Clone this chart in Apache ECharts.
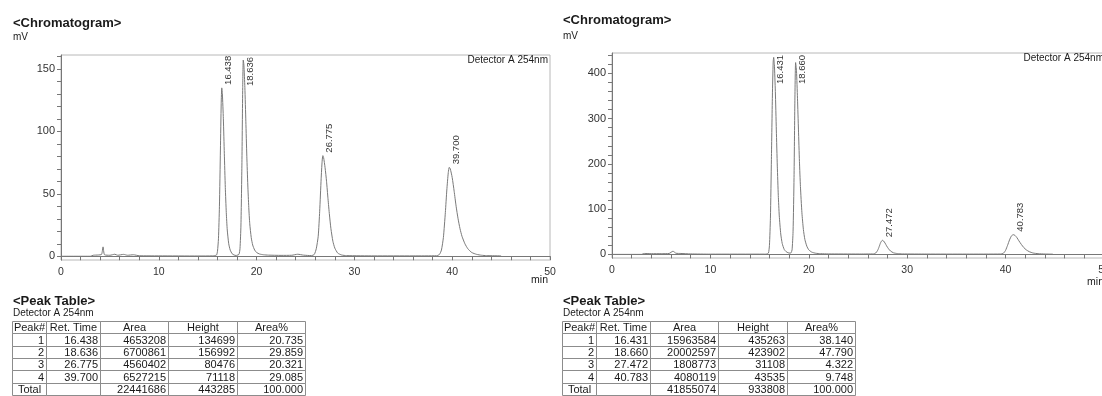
<!DOCTYPE html>
<html>
<head>
<meta charset="utf-8">
<title>Chromatogram</title>
<script src="https://cdn.jsdelivr.net/npm/echarts@6/dist/echarts.min.js"></script>
<style>
html, body { margin: 0; padding: 0; background: #fff; }
#main { width: 1102px; height: 396px; }
</style>
</head>
<body>
<div id="main"></div>
<script>
// ---- run 1 (left) : signal, min / mV ----
var leftTime = [0, 3.0, 3.3, 3.8, 4.15, 4.3, 4.45, 5.0, 5.5, 5.8, 6.4, 6.8, 7.4, 8.0, 10, 14, 15.5,
    15.9, 16.0, 16.1, 16.2, 16.3, 16.38, 16.438, 16.5, 16.6, 16.7, 16.8, 16.9, 17.0, 17.15, 17.3, 17.5, 17.7, 17.9,
    18.0, 18.2, 18.3, 18.4, 18.5, 18.58, 18.636, 18.7, 18.8, 18.9, 19.0, 19.1, 19.2, 19.3, 19.45, 19.6, 19.8, 20.0, 20.3, 20.7, 21.2,
    22.5, 23.6, 24.2, 24.8, 25.6,
    25.9, 26.1, 26.3, 26.45, 26.6, 26.7, 26.775, 26.85, 27.0, 27.15, 27.3, 27.45, 27.6, 27.8, 28.0, 28.3, 28.7, 29.2,
    32, 36, 38.4,
    38.7, 38.9, 39.1, 39.3, 39.45, 39.6, 39.7, 39.8, 40.0, 40.2, 40.4, 40.6, 40.8, 41.0, 41.3, 41.6, 42.0, 42.5, 43.0, 43.5, 45];
var leftMv = [0, 0, 0.8, 1, 1.5, 7.5, 1.2, 0.8, 1.6, 0.8, 1.5, 0.8, 1.2, 0.4, 0.3, 0.2, 0.3,
    1, 4, 14, 40, 85, 122, 134.7, 130, 110, 82, 55, 35, 21, 10, 5, 2, 1, 0.6,
    0.8, 1.5, 6, 25, 75, 135, 157, 153, 135, 108, 80, 57, 39, 26, 15, 9, 5, 3, 1.8, 1.2, 0.9,
    0.7, 0.8, 1.6, 0.9, 0.5,
    1.5, 6, 16, 36, 62, 76, 80.5, 79, 71, 60, 46, 33, 22, 12, 6.5, 2.5, 1, 0.5,
    0.3, 0.3, 0.4,
    1.5, 5, 15, 35, 53, 67, 71.1, 70, 63, 52, 40, 30, 22, 16, 10, 6, 3, 1.5, 0.8, 0.5, 0.3];

// ---- run 2 (right) ----
var rightTime = [0, 3.0, 3.3, 4.0, 5.0, 5.8, 6.2, 6.5, 7.0, 8.0, 10, 15.5,
    15.7, 15.9, 16.0, 16.1, 16.2, 16.3, 16.38, 16.431, 16.5, 16.6, 16.7, 16.8, 16.9, 17.0, 17.15, 17.3, 17.5, 17.7, 17.9, 18.1,
    18.2, 18.3, 18.4, 18.5, 18.58, 18.66, 18.75, 18.85, 18.95, 19.05, 19.15, 19.3, 19.45, 19.6, 19.8, 20.0, 20.3, 20.7, 21.2,
    22, 25,
    26.6, 26.8, 27.0, 27.15, 27.3, 27.472, 27.6, 27.75, 27.9, 28.1, 28.3, 28.6, 29.0, 29.5,
    32, 36,
    39.5, 39.8, 40.0, 40.2, 40.4, 40.6, 40.783, 40.95, 41.15, 41.35, 41.6, 41.85, 42.1, 42.4, 42.8, 43.3, 44, 44.8];
var rightMv = [0, 0, 2, 1.5, 1.5, 2, 7, 2.5, 2, 1, 0.5, 0.5,
    0.8, 3, 20, 80, 210, 350, 425, 435.3, 420, 360, 275, 195, 130, 85, 45, 24, 11, 6, 3.5, 2.8,
    3.5, 10, 50, 170, 330, 423.9, 405, 345, 275, 205, 150, 92, 55, 33, 18, 10, 5, 2.5, 1.5,
    1, 0.8,
    1, 3, 9, 17, 26, 31.1, 29.5, 25, 19, 12.5, 7.5, 3.5, 1.8, 1,
    0.7, 0.6,
    0.8, 3, 9, 20, 32, 41, 43.5, 42, 37, 30, 22, 15, 10, 6, 3, 1.5, 0.8, 0.5];

// ---- peak tables ----
var tableHeader = ['Peak#', 'Ret. Time', 'Area', 'Height', 'Area%'];
var peakNo = [1, 2, 3, 4];

var leftRetTime = [16.438, 18.636, 26.775, 39.700];
var leftArea = [4653208, 6700861, 4560402, 6527215];
var leftHeight = [134699, 156992, 80476, 71118];
var leftAreaPct = [20.735, 29.859, 20.321, 29.085];
var leftTotal = [22441686, 443285, 100.000];

var rightRetTime = [16.431, 18.660, 27.472, 40.783];
var rightArea = [15963584, 20002597, 1808773, 4080119];
var rightHeight = [435263, 423902, 31108, 43535];
var rightAreaPct = [38.140, 47.790, 4.322, 9.748];
var rightTotal = [41855074, 933808, 100.000];

// ---- axis ticks ----
var xTickStep = 10;
var leftYTicks = [0, 10, 20, 30, 40, 50, 60, 70, 80, 90, 100, 110, 120, 130, 140, 150, 160];
var leftYLabels = [0, 50, 100, 150];
var rightYTicks = [0, 20, 40, 60, 80, 100, 120, 140, 160, 180, 200, 220, 240, 260, 280, 300, 320, 340, 360, 380, 400, 420, 440];
var rightYLabels = [0, 100, 200, 300, 400];

var FONT = '"Liberation Sans", Arial, sans-serif';
var AXIS_C = '#777';

function pairs(t, v) {
    return t.map(function (x, i) { return [x, v[i]]; });
}

// µV -> mV for the peak top
function peakTops(rt, h) {
    return rt.map(function (x, i) { return [x, h[i] / 1000]; });
}

// retention time written upright next to each peak top
function peakLabel(params, api) {
    var p = api.coord([api.value(0), api.value(1)]);
    var top = params.coordSys.y;
    var txtLen = 27;
    var y = p[1] - 3, align = 'left';
    if (y - txtLen < top + 2) { y = top + 2; align = 'right'; }
    return {
        type: 'text',
        x: p[0] + 7,
        y: y,
        rotation: Math.PI / 2,
        style: {
            text: api.value(0).toFixed(3),
            align: align,
            verticalAlign: 'middle',
            font: '9.5px ' + FONT,
            fill: '#333'
        }
    };
}

function xAxisOf(idx) {
    return {
        type: 'value', gridIndex: idx, min: 0, max: 50, interval: xTickStep,
        axisLine: { lineStyle: { color: AXIS_C, width: 1 } },
        axisTick: { length: 4, lineStyle: { color: AXIS_C } },
        minorTick: { show: true, splitNumber: 5, length: 4, lineStyle: { color: AXIS_C } },
        axisLabel: { fontSize: 10.5, color: '#333', margin: 7, fontFamily: FONT },
        splitLine: { show: false }
    };
}

function yAxisOf(idx, min, max, ticks, labels) {
    return {
        type: 'value', gridIndex: idx, min: min, max: max,
        axisLine: { show: true, lineStyle: { color: AXIS_C, width: 1 } },
        axisTick: { show: true, length: 4, customValues: ticks, lineStyle: { color: AXIS_C } },
        axisLabel: { fontSize: 11, color: '#333', margin: 6, customValues: labels, fontFamily: FONT },
        splitLine: { show: false }
    };
}

function lineSeries(idx, data) {
    return {
        type: 'line', xAxisIndex: idx, yAxisIndex: idx, data: data,
        showSymbol: false, smooth: 0.2,
        lineStyle: { color: '#7a7a7a', width: 1 },
        silent: true
    };
}

function labelSeries(idx, data) {
    return {
        type: 'custom', xAxisIndex: idx, yAxisIndex: idx, data: data,
        renderItem: peakLabel, silent: true, clip: false
    };
}

// ---- text + peak tables as graphic ----
var colW = [34, 54, 68, 69, 68];
var rowTops = [321, 333, 346, 358, 370, 383, 395];

function txt(x, y, s, font, align) {
    return {
        type: 'text', x: x, y: y, silent: true,
        style: { text: s, font: font, fill: '#1a1a1a', align: align || 'left', verticalAlign: 'middle' }
    };
}

function buildTable(x0, rt, area, h, pct, total) {
    var rows = [tableHeader];
    peakNo.forEach(function (n, i) {
        rows.push([String(n), rt[i].toFixed(3), String(area[i]), String(h[i]), pct[i].toFixed(3)]);
    });
    rows.push(['Total', '', String(total[0]), String(total[1]), total[2].toFixed(3)]);
    var els = [];
    rows.forEach(function (row, r) {
        var y = rowTops[r] + 0.5, rh = rowTops[r + 1] - rowTops[r];
        var x = x0 + 0.5;
        row.forEach(function (cell, c) {
            els.push({
                type: 'rect', silent: true,
                shape: { x: x, y: y, width: colW[c], height: rh },
                style: { fill: 'none', stroke: '#8c8c8c', lineWidth: 1 }
            });
            var centred = r === 0 || (r === rows.length - 1 && c === 0);
            els.push(txt(centred ? x + colW[c] / 2 : x + colW[c] - 2.5, y + rh / 2 + 0.5, cell,
                '11px ' + FONT, centred ? 'center' : 'right'));
            x += colW[c];
        });
    });
    return els;
}

var graphics = [
    txt(13, 23, '<Chromatogram>', 'bold 13px ' + FONT),
    txt(13, 37.5, 'mV', '10px ' + FONT),
    txt(548, 60.5, 'Detector A 254nm', '10px ' + FONT, 'right'),
    txt(548, 280, 'min', '10.5px ' + FONT, 'right'),
    txt(13, 301, '<Peak Table>', 'bold 13px ' + FONT),
    txt(13, 313, 'Detector A 254nm', '10px ' + FONT),

    txt(563, 20.5, '<Chromatogram>', 'bold 13px ' + FONT),
    txt(563, 36, 'mV', '10px ' + FONT),
    txt(1104, 58.5, 'Detector A 254nm', '10px ' + FONT, 'right'),
    txt(1104, 282, 'min', '10.5px ' + FONT, 'right'),
    txt(563, 301, '<Peak Table>', 'bold 13px ' + FONT),
    txt(563, 313, 'Detector A 254nm', '10px ' + FONT)
].concat(
    buildTable(12, leftRetTime, leftArea, leftHeight, leftAreaPct, leftTotal),
    buildTable(562, rightRetTime, rightArea, rightHeight, rightAreaPct, rightTotal)
);

var chart = echarts.init(document.getElementById('main'));
chart.setOption({
    animation: false,
    backgroundColor: '#fff',
    textStyle: { fontFamily: FONT },
    grid: [
        { left: 61, top: 55, width: 489, height: 205, show: true, borderColor: '#b8b8b8', borderWidth: 1, outerBoundsMode: 'none', containLabel: false },
        { left: 612, top: 53, width: 492, height: 205, show: true, borderColor: '#b8b8b8', borderWidth: 1, outerBoundsMode: 'none', containLabel: false }
    ],
    xAxis: [xAxisOf(0), xAxisOf(1)],
    yAxis: [
        yAxisOf(0, -3, 161, leftYTicks, leftYLabels),
        yAxisOf(1, -8, 445, rightYTicks, rightYLabels)
    ],
    series: [
        lineSeries(0, pairs(leftTime, leftMv)),
        labelSeries(0, peakTops(leftRetTime, leftHeight)),
        lineSeries(1, pairs(rightTime, rightMv)),
        labelSeries(1, peakTops(rightRetTime, rightHeight))
    ],
    graphic: graphics
});
</script>
</body>
</html>
